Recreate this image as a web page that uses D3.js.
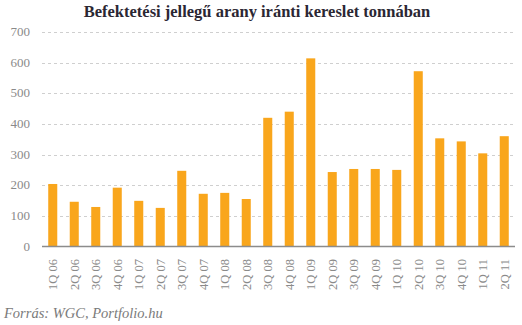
<!DOCTYPE html>
<html lang="hu">
	<head>
		<meta charset="utf-8">
		<title>Befektetési jellegű arany iránti kereslet tonnában</title>
		<script src="https://d3js.org/d3.v7.min.js"></script>
		<style type="text/css">
			body {
				margin: 0;
				background: #fff;
			}
			text {
				font-family: Georgia, "Liberation Serif", serif;
			}
		</style>
	</head>
	<body>
		<script type="text/javascript">
			//Data
			var quarters = ["1Q 06", "2Q 06", "3Q 06", "4Q 06", "1Q 07", "2Q 07", "3Q 07", "4Q 07",
				"1Q 08", "2Q 08", "3Q 08", "4Q 08", "1Q 09", "2Q 09", "3Q 09", "4Q 09",
				"1Q 10", "2Q 10", "3Q 10", "4Q 10", "1Q 11", "2Q 11"];
			var tonnes = [204, 146, 129, 192, 149, 126, 247, 172,
				175, 155, 420, 440, 614, 243, 253, 253,
				250, 572, 353, 343, 304, 360];
			var yTicks = [0, 100, 200, 300, 400, 500, 600, 700];

			//Width and height
			var w = 522;
			var h = 325;
			var plotLeft = 42, plotRight = 515, plotTop = 32, plotBottom = 246.5;

			var svg = d3.select("body")
				.append("svg")
				.attr("width", w)
				.attr("height", h);

			var x = d3.scaleBand()
				.domain(quarters)
				.range([plotLeft, plotRight])
				.paddingInner(0.58)
				.paddingOuter(0.29);

			var y = d3.scaleLinear()
				.domain([0, 700])
				.range([plotBottom, plotTop]);

			//Title
			svg.append("text")
				.attr("x", 257)
				.attr("y", 17)
				.attr("text-anchor", "middle")
				.attr("font-weight", "bold")
				.attr("font-size", "16.5px")
				.attr("fill", "#2b2733")
				.text("Befektetési jellegű arany iránti kereslet tonnában");

			//Gridlines
			svg.append("g")
				.selectAll("line")
				.data(yTicks.filter(function(d) { return d > 0; }))
				.enter()
				.append("line")
				.attr("x1", plotLeft)
				.attr("x2", plotRight - 1)
				.attr("y1", function(d) { return Math.round(y(d)) + 0.5; })
				.attr("y2", function(d) { return Math.round(y(d)) + 0.5; })
				.attr("stroke", "#cfcfcf")
				.attr("stroke-dasharray", "3,3");

			//Y labels
			svg.append("g")
				.selectAll("text")
				.data(yTicks)
				.enter()
				.append("text")
				.attr("x", 30)
				.attr("y", function(d) { return y(d) + 4; })
				.attr("text-anchor", "end")
				.attr("font-size", "13px")
				.attr("fill", "#8a8a8a")
				.text(function(d) { return d; });

			//Bars
			svg.append("g")
				.selectAll("rect")
				.data(tonnes)
				.enter()
				.append("rect")
				.attr("x", function(d, i) { return x(quarters[i]); })
				.attr("width", x.bandwidth())
				.attr("y", function(d) { return y(d); })
				.attr("height", function(d) { return y(0) - y(d); })
				.attr("fill", "#f9a61c");

			//Baseline
			svg.append("line")
				.attr("x1", plotLeft)
				.attr("x2", plotRight)
				.attr("y1", plotBottom)
				.attr("y2", plotBottom)
				.attr("stroke", "#8c8c8c")
				.attr("stroke-width", 1.5);

			//X labels
			svg.append("g")
				.selectAll("text")
				.data(quarters)
				.enter()
				.append("text")
				.attr("transform", function(d) {
					return "translate(" + (x(d) + x.bandwidth() / 2 + 4.5) + ",259) rotate(-90)";
				})
				.attr("text-anchor", "end")
				.attr("font-size", "12.5px")
				.attr("fill", "#8a8a8a")
				.text(function(d) { return d; });

			//Source
			svg.append("text")
				.attr("x", 4)
				.attr("y", 318)
				.attr("font-style", "italic")
				.attr("font-size", "14.5px")
				.attr("fill", "#7a7a7a")
				.text("Forrás: WGC, Portfolio.hu");
		</script>
	</body>
</html>
